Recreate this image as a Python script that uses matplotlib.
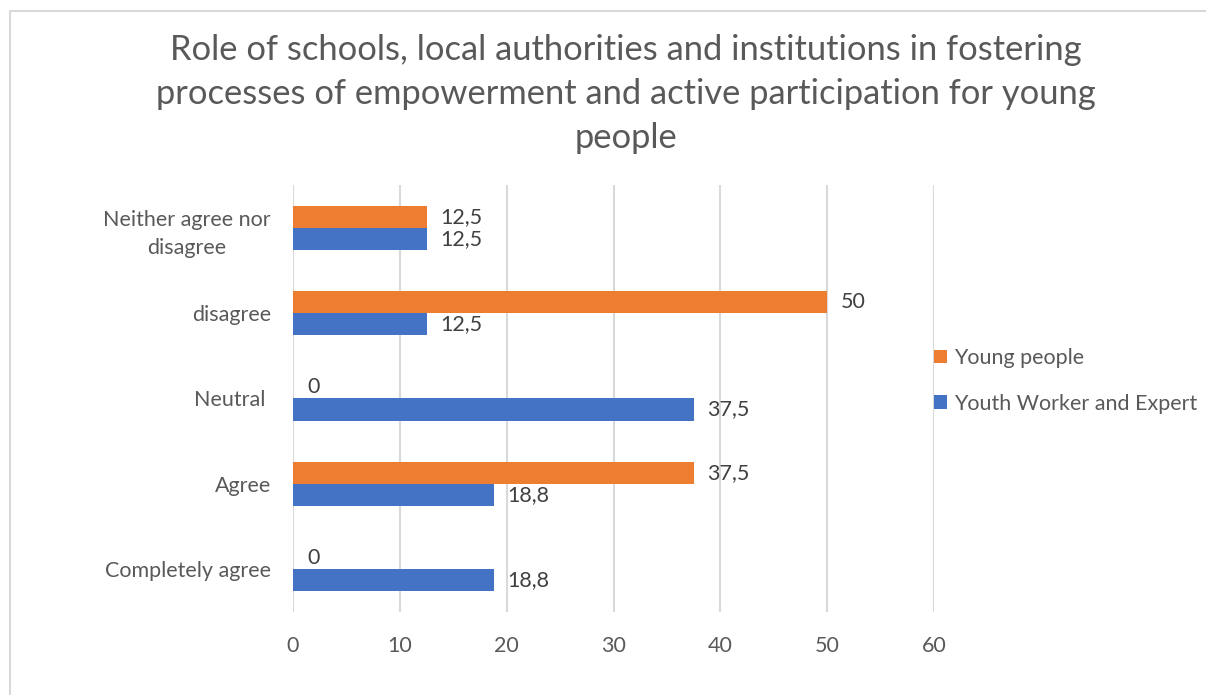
import numpy as np
import matplotlib.pyplot as plt
from matplotlib.patches import Rectangle

plt.rcParams['font.family'] = ['Lato', 'DejaVu Sans']

categories = ["Completely agree", "Agree", "Neutral ", "disagree", "Neither agree nor\ndisagree"]
young_people = [0, 37.5, 0, 50, 12.5]
youth_workers = [18.8, 18.8, 37.5, 12.5, 12.5]
x_ticks = [0, 10, 20, 30, 40, 50, 60]

title = ("Role of schools, local authorities and institutions in fostering\n"
         "processes of empowerment and active participation for young\n"
         "people")

orange = "#ED7D31"
blue = "#4472C4"
text_grey = "#595959"
grid_grey = "#D9D9D9"

fig = plt.figure(figsize=(12.06, 6.95), dpi=100)
ax = fig.add_axes([293 / 1206, 1 - 612 / 695, (934 - 293) / 1206, (612 - 185) / 695])

# light frame around the whole chart area
fig.patches.append(Rectangle((10 / 1206, -0.05), 1.1, 1 - 11 / 695 + 0.05,
                             transform=fig.transFigure, fill=False,
                             edgecolor="#D9D9D9", linewidth=1.5))

y = np.arange(len(categories))
h = 0.258
bars_y = ax.barh(y + h / 2, young_people, height=h, color=orange, label="Young people")
bars_b = ax.barh(y - h / 2, youth_workers, height=h, color=blue, label="Youth Worker and Expert")

def fmt(v):
    return ("%g" % v).replace(".", ",")

for bars, vals in ((bars_y, young_people), (bars_b, youth_workers)):
    for rect, v in zip(bars, vals):
        ax.annotate(fmt(v), (v, rect.get_y() + rect.get_height() / 2),
                    xytext=(10, 0), textcoords="offset points",
                    ha="left", va="center", fontsize=15.5, color="#404040")

ax.set_xlim(0, 60)
ax.set_ylim(-0.5, len(categories) - 0.5)
ax.set_xticks(x_ticks)
ax.set_xticklabels([str(t) for t in x_ticks])
ax.set_yticks(y)
ax.set_yticklabels(categories, linespacing=1.55)
ax.tick_params(axis="both", length=0, labelsize=15.5, colors=text_grey)
ax.tick_params(axis="x", pad=17)
ax.tick_params(axis="y", pad=16)
for lab in ax.get_yticklabels():
    lab.set_horizontalalignment("right")
    lab.set_multialignment("center")

ax.grid(axis="x", color=grid_grey, linewidth=1.5)
ax.set_axisbelow(True)
for s in ax.spines.values():
    s.set_visible(False)

fig.text(626 / 1206, 1 - 94 / 695, title, ha="center", va="center",
         fontsize=24.8, color=text_grey, linespacing=1.45)

handles, labels = ax.get_legend_handles_labels()
leg = fig.legend(handles, labels, loc="center left",
                 bbox_to_anchor=(915 / 1206, 1 - 381 / 695), frameon=False,
                 fontsize=15.5, handlelength=0.6, handleheight=0.6,
                 handletextpad=0.3, labelspacing=1.2)
for t in leg.get_texts():
    t.set_color(text_grey)

fig.savefig("out.png", dpi=100, facecolor="white")
